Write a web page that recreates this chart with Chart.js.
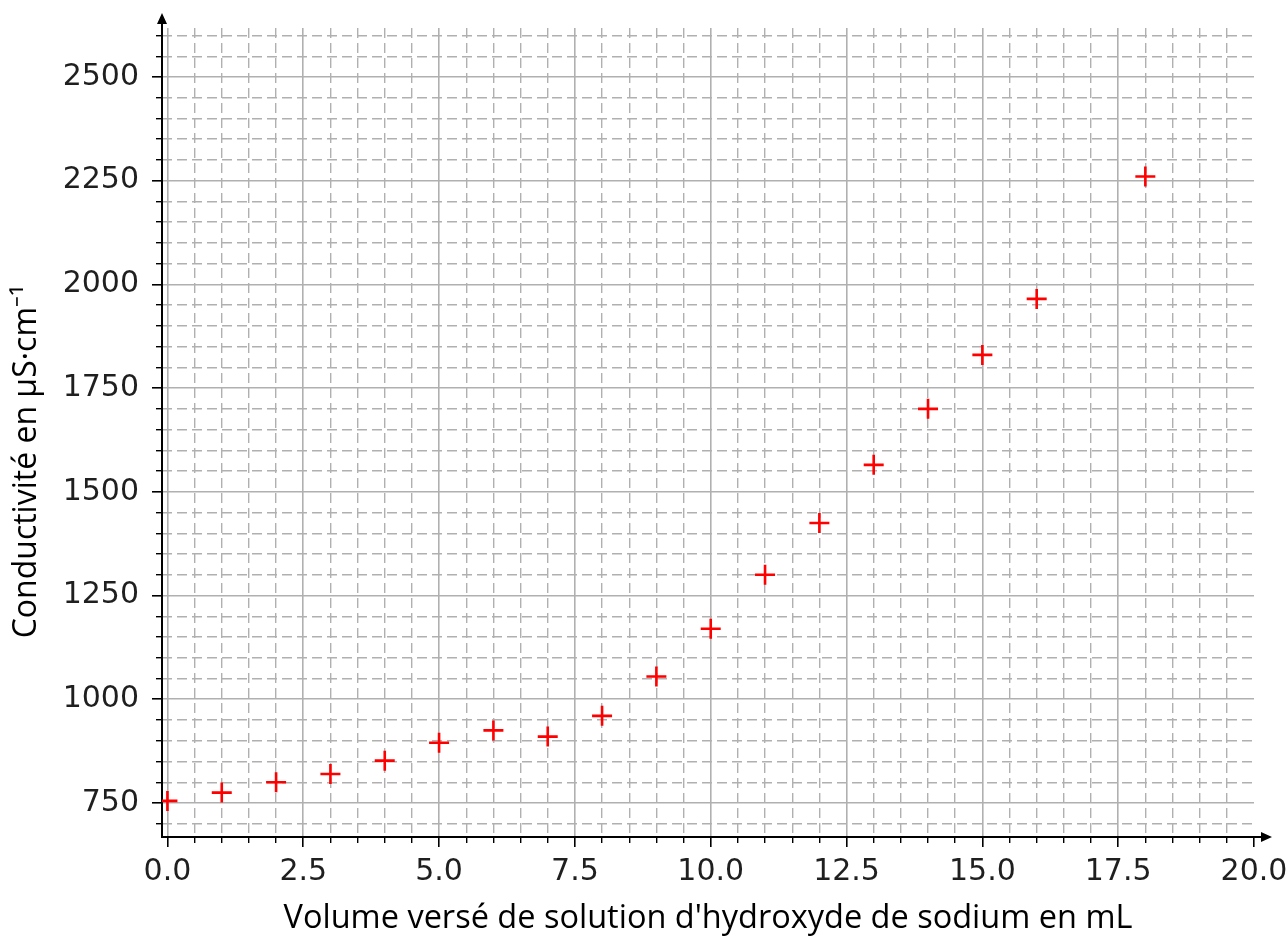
<!DOCTYPE html>
<html lang="fr">
<head>
<meta charset="utf-8">
<title>Conductivité</title>
<script src="https://cdn.jsdelivr.net/npm/chart.js@4.4.1/dist/chart.umd.min.js"></script>
<style>
  html, body { margin: 0; padding: 0; background: #fff; }
  canvas { display: block; }
</style>
</head>
<body>
<canvas id="chart" width="1288" height="938"></canvas>
<script>
// données
const volumes = [0, 1, 2, 3, 4, 5, 6, 7, 8, 9, 10, 11, 12, 13, 14, 15, 16, 18];
const conductivites = [755, 775, 800, 820, 852, 895, 925, 910, 960, 1055, 1170, 1300, 1425, 1565, 1700, 1830, 1965, 2260];

// graduations
const xTicks = [0, 2.5, 5, 7.5, 10, 12.5, 15, 17.5, 20];
const yTicks = [750, 1000, 1250, 1500, 1750, 2000, 2250, 2500];

// limites des axes
const X_MIN = -0.1, X_MAX = 20, X_MINOR = 0.5;
const Y_MIN = 668, Y_MAX = 2618, Y_MINOR = 50;

const X_TITLE = "Volume versé de solution d'hydroxyde de sodium en mL";
const Y_TITLE = 'Conductivité en µS·cm⁻¹';

const GRID = '#b0b0b0';
const TICK_FONT = { family: 'DejaVu Sans', size: 30 };

// graduations secondaires (tous les pas, sans les principales)
function minorTicks(min, max, step, major) {
    const out = [];
    for (let k = Math.ceil(min / step); k * step <= max + 1e-9; k++) {
        const v = Math.round(k * step * 1000) / 1000;
        if (!major.includes(v)) out.push({ value: v });
    }
    return out;
}

// taille fixe de l'axe, sans marge ajoutée pour les étiquettes des bords
function fixSize(prop, size) {
    return s => {
        s[prop] = size;
        s.paddingLeft = 0;
        s.paddingRight = 0;
        s.paddingTop = 0;
        s.paddingBottom = 0;
    };
}

// flèches au bout des axes
const axisArrows = {
    id: 'axisArrows',
    afterDraw(chart) {
        const { ctx, chartArea: a } = chart;
        ctx.save();
        ctx.strokeStyle = '#000';
        ctx.fillStyle = '#000';
        ctx.lineWidth = 2;
        ctx.beginPath();
        ctx.moveTo(a.left, a.top);
        ctx.lineTo(a.left, a.top - 8);
        ctx.moveTo(a.right, a.bottom);
        ctx.lineTo(a.right + 9, a.bottom);
        ctx.stroke();
        ctx.beginPath();
        ctx.moveTo(a.left, a.top - 15);
        ctx.lineTo(a.left - 5, a.top - 4);
        ctx.lineTo(a.left + 5, a.top - 4);
        ctx.closePath();
        ctx.moveTo(a.right + 18, a.bottom);
        ctx.lineTo(a.right + 7, a.bottom - 5);
        ctx.lineTo(a.right + 7, a.bottom + 5);
        ctx.closePath();
        ctx.fill();
        ctx.restore();
    }
};

new Chart(document.getElementById('chart'), {
    type: 'scatter',
    data: {
        datasets: [{
            data: volumes.map((v, i) => ({ x: v, y: conductivites[i] })),
            pointStyle: 'cross',
            pointRadius: 10,
            pointHoverRadius: 10,
            pointBorderWidth: 2.6,
            pointHoverBorderWidth: 2.6,
            borderColor: '#ff0000',
            backgroundColor: '#ff0000',
            showLine: false,
            clip: 0
        }]
    },
    options: {
        responsive: false,
        animation: false,
        layout: { padding: { top: 28, right: 34, left: 0, bottom: 0 } },
        plugins: {
            legend: { display: false },
            tooltip: { enabled: false }
        },
        scales: {
            x: {
                type: 'linear',
                position: 'bottom',
                weight: 1,
                min: X_MIN,
                max: X_MAX,
                afterBuildTicks: s => { s.ticks = xTicks.map(v => ({ value: v })); },
                afterFit: fixSize('height', 101),
                ticks: {
                    autoSkip: false,
                    maxRotation: 0,
                    padding: 7,
                    color: '#1f1f1f',
                    font: TICK_FONT,
                    callback: v => Number(v).toFixed(1)
                },
                grid: {
                    color: c => (c.tick && c.tick.value >= X_MAX ? 'rgba(0,0,0,0)' : GRID),
                    lineWidth: 1.6,
                    tickLength: 10,
                    tickColor: '#000',
                    tickWidth: 1.6
                },
                border: { color: '#000', width: 2 },
                title: {
                    display: true,
                    text: X_TITLE,
                    color: '#000',
                    font: { family: 'Open Sans', size: 32.5 },
                    padding: { top: 0, bottom: 0 }
                }
            },
            xMinor: {
                type: 'linear',
                position: 'bottom',
                weight: 0,
                min: X_MIN,
                max: X_MAX,
                afterBuildTicks: s => { s.ticks = minorTicks(X_MIN, X_MAX, X_MINOR, xTicks); },
                afterFit: fixSize('height', 0),
                ticks: { display: false },
                grid: {
                    color: GRID,
                    lineWidth: 1.4,
                    tickLength: 6,
                    tickColor: '#000',
                    tickWidth: 1.4
                },
                border: { display: false, dash: [10, 5] }
            },
            y: {
                type: 'linear',
                position: 'left',
                weight: 1,
                min: Y_MIN,
                max: Y_MAX,
                afterBuildTicks: s => { s.ticks = yTicks.map(v => ({ value: v })); },
                afterFit: fixSize('width', 162),
                ticks: {
                    autoSkip: false,
                    padding: 13,
                    color: '#1f1f1f',
                    font: TICK_FONT,
                    callback: v => String(v)
                },
                grid: {
                    color: GRID,
                    lineWidth: 1.6,
                    tickLength: 10,
                    tickColor: '#000',
                    tickWidth: 1.6
                },
                border: { color: '#000', width: 2 },
                title: {
                    display: true,
                    text: Y_TITLE + '       ',
                    color: '#000',
                    font: { family: 'Open Sans', size: 32 },
                    padding: { top: 8, bottom: 0 }
                }
            },
            yMinor: {
                type: 'linear',
                position: 'left',
                weight: 0,
                min: Y_MIN,
                max: Y_MAX,
                afterBuildTicks: s => { s.ticks = minorTicks(Y_MIN, Y_MAX, Y_MINOR, yTicks); },
                afterFit: fixSize('width', 0),
                ticks: { display: false },
                grid: {
                    color: GRID,
                    lineWidth: 1.4,
                    tickLength: 6,
                    tickColor: '#000',
                    tickWidth: 1.4
                },
                border: { display: false, dash: [10, 5] }
            }
        }
    },
    plugins: [axisArrows]
});
</script>
</body>
</html>
